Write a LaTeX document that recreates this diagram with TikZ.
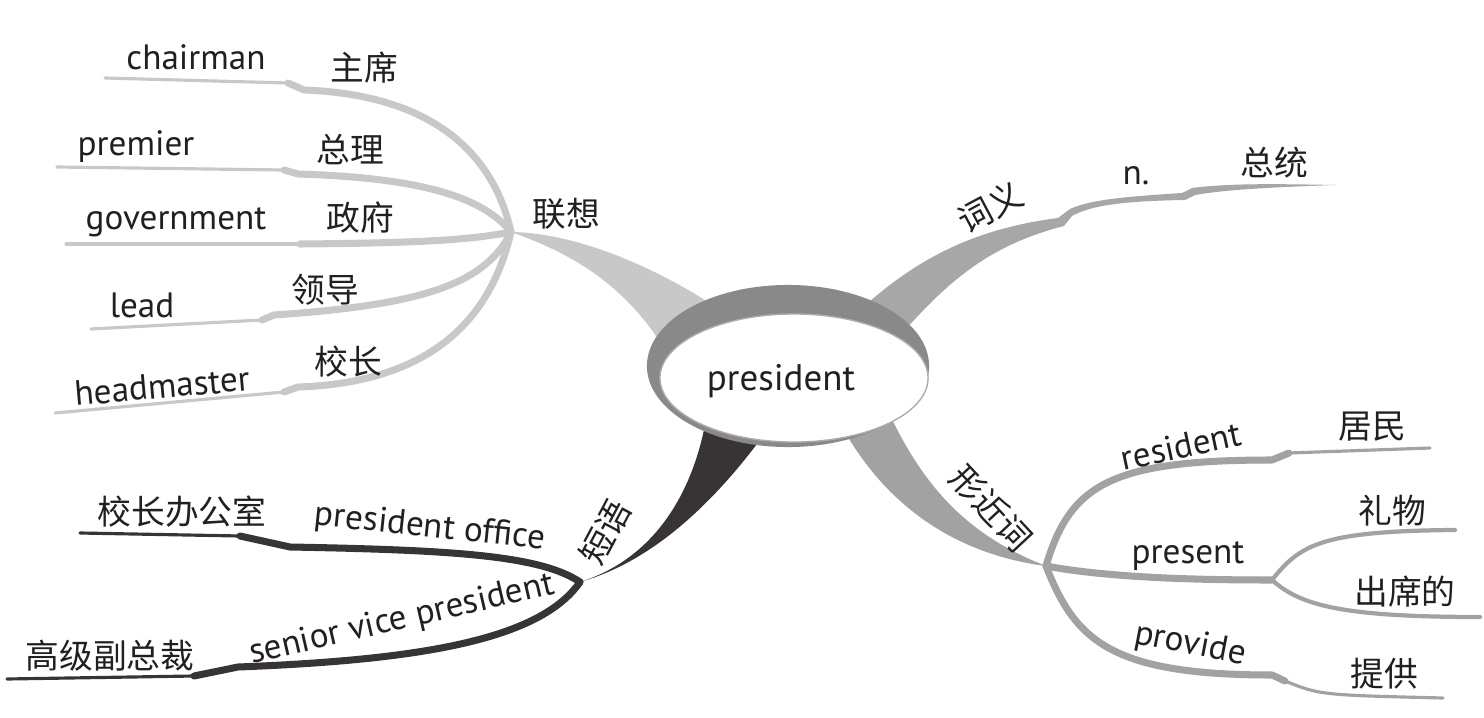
\documentclass[tikz,border=0pt]{standalone}
\usepackage{fontspec}
\setmainfont{PT Sans}
\newfontfamily\cjk{Noto Sans CJK SC}
\usetikzlibrary{positioning}
\definecolor{mmtext}{HTML}{231F20}
\definecolor{mmlight}{HTML}{C8C8C8}
\definecolor{mmmid}{HTML}{A2A2A2}
\definecolor{mmdark}{HTML}{383436}
\definecolor{mmring}{HTML}{898989}
\tikzset{
  mmword/.style={font=\fontsize{10}{12}\selectfont, text=mmtext, inner sep=0pt},
  mmcn/.style={font=\cjk\fontsize{9.6}{11}\selectfont, text=mmtext, inner sep=0pt},
  mmtwig/.style={line width=0.9pt, line cap=round},
  mmbranch/.style={line width=2pt, line cap=round, line join=round}
}

\begin{document}
\begin{tikzpicture}[x=0.01cm,y=-0.01cm]
  \useasboundingbox (0,0) rectangle (1484,718);
  % forks
  \coordinate (jassoc) at (511,232);
  \coordinate (jphrase) at (580,582);
  \coordinate (jform) at (1046,566);
  \coordinate (jpres) at (1272,580);

  % trunks, the ring covers their roots
  \coordinate (rassoc-a) at (708,302);
  \coordinate (rassoc-b) at (662,345);
  \fill[mmlight] (rassoc-a) .. controls (650,265) and (575,233) .. (jassoc)
    .. controls (568,252) and (622,282) .. (rassoc-b) -- cycle;
  \coordinate (rmean-a) at (860,310);
  \coordinate (rmean-b) at (905,330);
  \coordinate (jmean) at (1066,218);
  \coordinate (jnoun) at (1190,192);
  \coordinate (leafmean) at (1336,185);
  \fill[mmmid!95!white] (rmean-a) .. controls (920,255) and (980,228) .. (1058,218) -- (1070,209)
    .. controls (1090,200) and (1120,197) .. (1182,193) -- (1192,188)
    .. controls (1230,183) and (1280,184) .. (leafmean)
    .. controls (1280,187) and (1230,189) .. (1195,195) -- (1185,200)
    .. controls (1120,201) and (1090,206) .. (1072,216) -- (1064,226)
    .. controls (990,245) and (950,280) .. (rmean-b) -- cycle;
  \coordinate (rform-a) at (845,432);
  \coordinate (rform-b) at (890,415);
  \fill[mmmid] (rform-a) .. controls (890,510) and (960,555) .. (jform)
    .. controls (980,540) and (930,500) .. (rform-b) -- cycle;
  \coordinate (rphrase-a) at (705,425);
  \coordinate (rphrase-b) at (760,440);
  \fill[mmdark] (rphrase-a) .. controls (690,500) and (650,560) .. (jphrase)
    .. controls (640,565) and (700,520) .. (rphrase-b) -- cycle;

  % ring
  \fill[mmring] (788,366) ellipse [x radius=1.41cm, y radius=0.81cm];
  \filldraw[fill=white, draw=mmring!70, line width=0.4pt] (794,378) ellipse [x radius=1.34cm, y radius=0.64cm];
  \node[mmword, font=\fontsize{10.5}{12}\selectfont] (pres) at (781,381) {president};

  % association leaves
  \coordinate (chair-end) at (105,78);
  \coordinate (chair-a) at (288,83);
  \coordinate (chair-b) at (304,90);
  \draw[mmtwig, mmlight] (chair-end) -- (chair-a);
  \draw[mmbranch, mmlight] (chair-a) -- (chair-b) .. controls (440,95) and (495,160) .. (jassoc);
  \coordinate (prem-end) at (57,167);
  \coordinate (prem-a) at (284,170);
  \coordinate (prem-b) at (298,174);
  \draw[mmtwig, mmlight] (prem-end) -- (prem-a);
  \draw[mmbranch, mmlight] (prem-a) -- (prem-b) .. controls (430,178) and (485,200) .. (jassoc);
  \coordinate (gov-end) at (66,244);
  \coordinate (gov-a) at (300,244);
  \draw[mmtwig, mmlight] (gov-end) -- (gov-a);
  \draw[mmbranch, mmlight] (gov-a) .. controls (420,243) and (470,240) .. (jassoc);
  \coordinate (lead-end) at (91,329);
  \coordinate (lead-a) at (262,320);
  \coordinate (lead-b) at (274,315);
  \draw[mmtwig, mmlight] (lead-end) -- (lead-a);
  \draw[mmbranch, mmlight] (lead-a) -- (lead-b) .. controls (420,305) and (485,285) .. (jassoc);
  \coordinate (head-end) at (55,413);
  \coordinate (head-a) at (284,392);
  \coordinate (head-b) at (298,387);
  \draw[mmtwig, mmlight] (head-end) -- (head-a);
  \draw[mmbranch, mmlight] (head-a) -- (head-b) .. controls (450,382) and (495,300) .. (jassoc);

  % phrase leaves
  \coordinate (office-end) at (80,533);
  \coordinate (office-a) at (240,536);
  \coordinate (office-b) at (290,547);
  \draw[mmtwig, mmdark] (office-end) -- (office-a);
  \draw[mmbranch, mmdark] (office-a) -- (office-b) .. controls (450,550) and (540,555) .. (jphrase);
  \coordinate (senior-end) at (7,679);
  \coordinate (senior-a) at (194,676);
  \coordinate (senior-b) at (238,667);
  \draw[mmtwig, mmdark] (senior-end) -- (senior-a);
  \draw[mmbranch, mmdark] (senior-a) -- (senior-b) .. controls (420,660) and (540,640) .. (jphrase);

  % similar-form leaves
  \coordinate (res-a) at (1272,460);
  \coordinate (res-b) at (1289,453);
  \coordinate (res-end) at (1430,448);
  \draw[mmbranch, mmmid] (jform) .. controls (1070,485) and (1110,460) .. (res-a) -- (res-b);
  \draw[mmtwig, mmmid] (res-b) -- (res-end);
  \draw[mmbranch, mmmid] (jform) .. controls (1110,578) and (1200,580) .. (jpres);
  \coordinate (gift-end) at (1455,530);
  \coordinate (attend-end) at (1480,617);
  \draw[mmtwig, mmmid, line width=1.2pt] (jpres) .. controls (1300,545) and (1320,531) .. (gift-end);
  \draw[mmtwig, mmmid, line width=1.2pt] (jpres) .. controls (1300,605) and (1340,617) .. (attend-end);
  \coordinate (prov-a) at (1272,675);
  \coordinate (prov-b) at (1285,681);
  \coordinate (prov-end) at (1443,698);
  \draw[mmbranch, mmmid] (jform) .. controls (1075,640) and (1110,675) .. (prov-a) -- (prov-b);
  \draw[mmtwig, mmmid] (prov-b) .. controls (1320,695) .. (prov-end);

  % labels
  \node[mmcn] (k-assoc) at (566,214) {联想};
  \node[mmcn, rotate=28] (k-mean) at (990,207) {词义};
  \node[mmcn, rotate=-47] (k-form) at (991,508) {形近词};
  \node[mmcn, rotate=62] (k-phrase) at (605,532) {短语};
  \node[mmword] (w-chair) at (196,57) {chairman};
  \node[mmcn] (c-chair) at (364,68) {主席};
  \node[mmword] (w-prem) at (136,147) {premier};
  \node[mmcn] (c-prem) at (350,150) {总理};
  \node[mmword] (w-gov) at (176,222) {government};
  \node[mmcn] (c-gov) at (360,218) {政府};
  \node[mmword] (w-lead) at (142,305) {lead};
  \node[mmcn] (c-lead) at (325,290) {领导};
  \node[mmword, rotate=5] (w-head) at (162,386) {headmaster};
  \node[mmcn] (c-head) at (348,362) {校长};
  \node[mmword] (w-noun) at (1136,176) {n.};
  \node[mmcn] (c-noun) at (1274,163) {总统};
  \node[mmword, rotate=12] (w-res) at (1181,446) {resident};
  \node[mmcn] (c-res) at (1372,427) {居民};
  \node[mmword] (w-present) at (1188,556) {present};
  \node[mmcn] (c-gift) at (1392,511) {礼物};
  \node[mmcn] (c-attend) at (1405,592) {出席的};
  \node[mmword, rotate=-11] (w-prov) at (1190,645) {provide};
  \node[mmcn] (c-prov) at (1384,674) {提供};
  \node[mmcn] (c-office) at (182,512) {校长办公室};
  \node[mmword, rotate=-6] (w-office) at (430,528) {president office};
  \node[mmcn] (c-senior) at (110,656) {高级副总裁};
  \node[mmword, rotate=13] (w-senior) at (402,620) {senior vice president};
\end{tikzpicture}
\end{document}
